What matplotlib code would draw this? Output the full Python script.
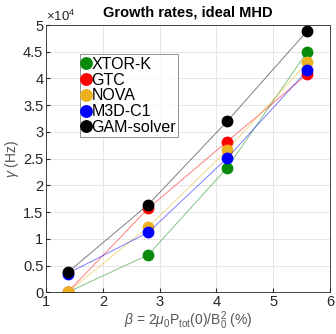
import matplotlib.pyplot as plt

plt.rcParams['font.family'] = ['Liberation Sans', 'DejaVu Sans']
plt.rcParams['mathtext.fontset'] = 'custom'
plt.rcParams['mathtext.rm'] = 'Liberation Sans'
plt.rcParams['mathtext.it'] = 'Liberation Sans:italic'

beta = [1.38, 2.8, 4.19, 5.6]

xtor_k = [0, 7000, 23300, 45000]
gtc = [0, 15700, 28200, 40800]
nova = [0, 12200, 26600, 43000]
m3d_c1 = [3500, 11200, 25100, 41500]
gam_solver = [3700, 16400, 32000, 48900]

names = ['XTOR-K', 'GTC', 'NOVA', 'M3D-C1', 'GAM-solver']
colors = ['#0a8a0a', '#ff0000', '#edb120', '#0000ff', '#000000']
series = [xtor_k, gtc, nova, m3d_c1, gam_solver]

fig = plt.figure(figsize=(3.36, 3.34), dpi=100)
ax = fig.add_axes([0.137, 0.125, 0.845, 0.8])

for name, c, s in zip(names, colors, series):
    y = [v / 1e4 for v in s]
    ax.plot(beta, y, '-', color=c, lw=0.7, alpha=0.5)
    ax.plot(beta, y, 'o', color=c, ms=7.5, label=name)

ax.set_xlim(1, 6)
ax.set_ylim(0, 5)
ax.set_xticks([1, 2, 3, 4, 5, 6])
ax.set_yticks([0, 0.5, 1, 1.5, 2, 2.5, 3, 3.5, 4, 4.5, 5])
ax.set_yticklabels(['0', '0.5', '1', '1.5', '2', '2.5', '3', '3.5', '4', '4.5', '5'])
ax.grid(True, color='#e6e6e6', lw=0.7)
ax.set_axisbelow(True)
ax.tick_params(labelsize=10.5, length=3, direction='in', colors='#262626',
               labelcolor='#262626', pad=2)
for sp in ax.spines.values():
    sp.set_color('#262626')
    sp.set_linewidth(0.6)

ax.set_title('Growth rates, ideal MHD', fontsize=10.5, fontweight='bold', pad=6)
ax.text(0.0, 1.005, r'$\times10^4$', transform=ax.transAxes, fontsize=9.5,
        color='#262626', va='bottom', ha='left')
ax.set_ylabel(r'$\gamma$ (Hz)', fontsize=10, color='#555555', labelpad=1)
ax.set_xlabel(r'$\beta$ = 2$\mu_0$P$_{\rm tot}$(0)/B$_0^2$ (%)', fontsize=10,
              color='#555555', labelpad=0)

leg = ax.legend(loc='upper left', bbox_to_anchor=(0.12, 0.89), fontsize=11.5,
                handlelength=0.4, handletextpad=0.15, borderpad=0.15,
                labelspacing=0.05, fancybox=False, edgecolor='#777777',
                markerscale=1.1, borderaxespad=0)
leg.get_frame().set_linewidth(0.7)

fig.savefig('out.png', dpi=100)
